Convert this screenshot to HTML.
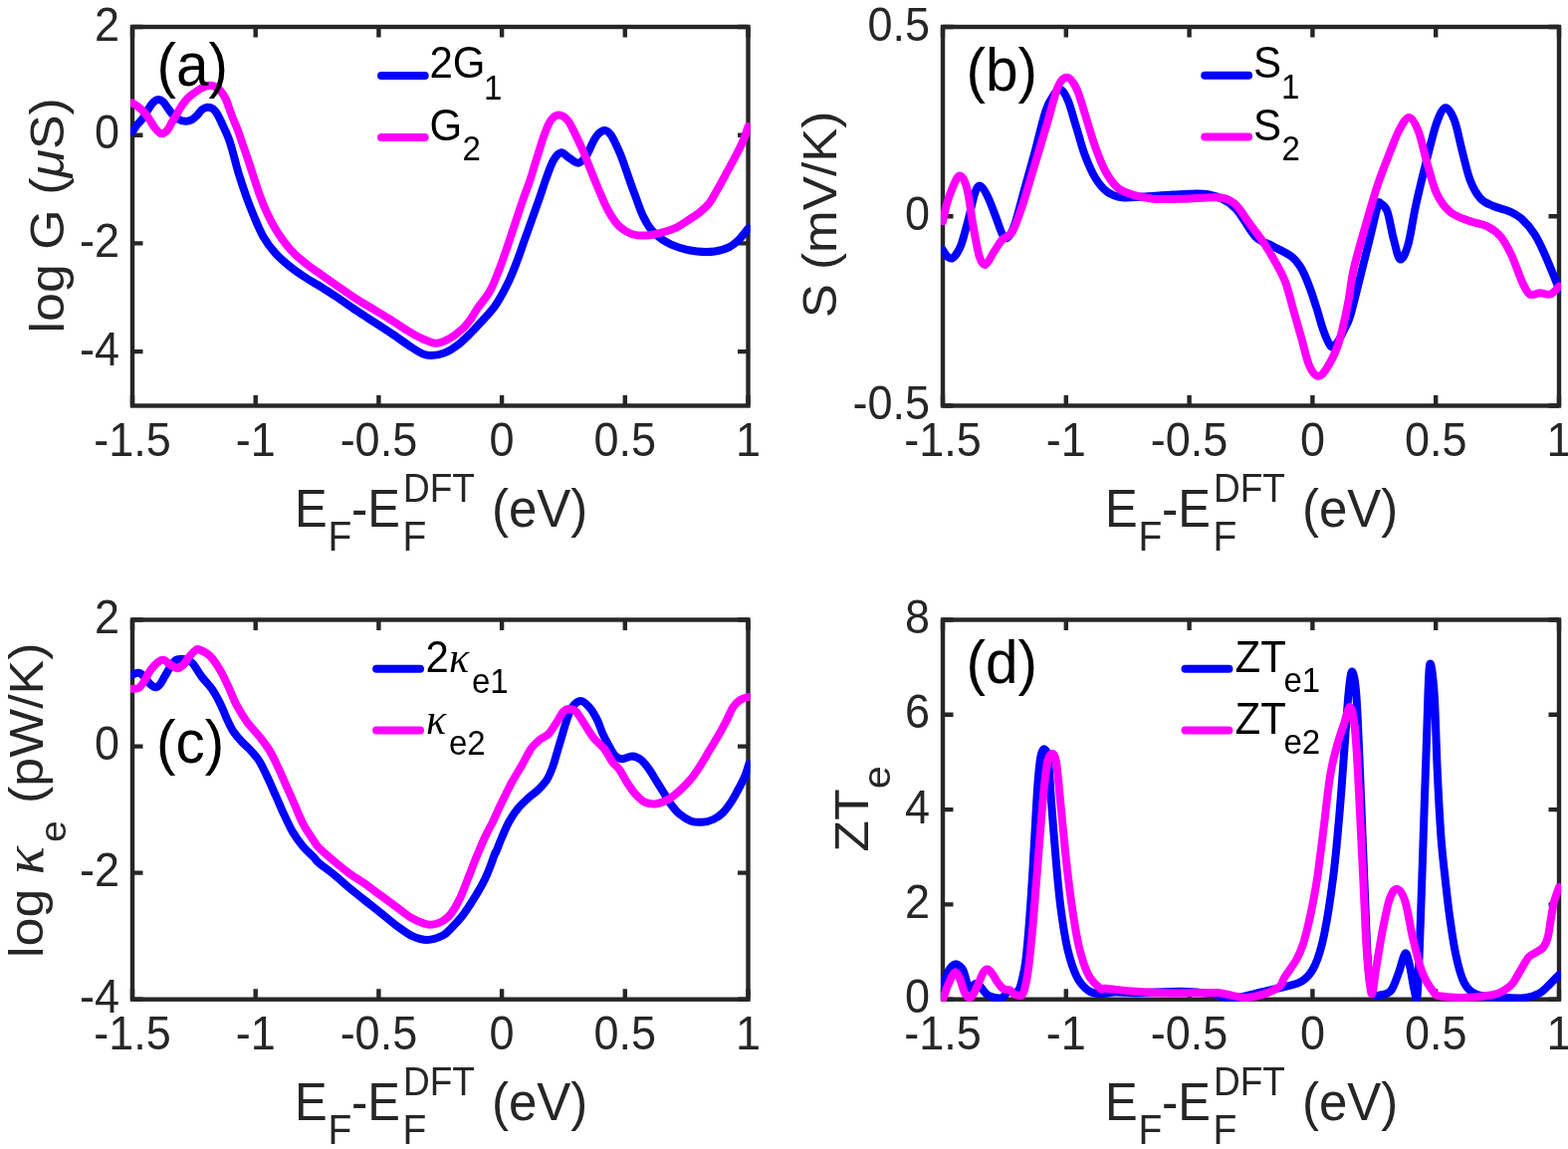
<!DOCTYPE html>
<html><head><meta charset="utf-8"><title>Figure</title>
<style>html,body{margin:0;padding:0;background:#fff;}svg{display:block;}text{font-family:"Liberation Sans", Arial, Helvetica, sans-serif;}</style></head><body>
<svg width="1575" height="1154" viewBox="0 0 1575 1154">
<rect x="0" y="0" width="1575" height="1154" fill="#fff"/>
<defs>
<clipPath id="clipa"><rect x="131" y="25" width="622.5" height="384.5"/></clipPath>
<clipPath id="clipb"><rect x="945" y="25" width="623" height="384.5"/></clipPath>
<clipPath id="clipc"><rect x="131" y="620.5" width="622.5" height="385.2"/></clipPath>
<clipPath id="clipd"><rect x="945" y="620.5" width="623" height="385.2"/></clipPath>
</defs>
<rect x="133" y="27" width="618.5" height="380.5" fill="none" stroke="#262626" stroke-width="4.4"/>
<path d="M133.0,407.5 V397 M133.0,27 V37.5 M256.7,407.5 V397 M256.7,27 V37.5 M380.4,407.5 V397 M380.4,27 V37.5 M504.1,407.5 V397 M504.1,27 V37.5 M627.8,407.5 V397 M627.8,27 V37.5 M751.5,407.5 V397 M751.5,27 V37.5 M133,27.0 H143.5 M751.5,27.0 H741 M133,135.7 H143.5 M751.5,135.7 H741 M133,244.4 H143.5 M751.5,244.4 H741 M133,353.1 H143.5 M751.5,353.1 H741" stroke="#262626" stroke-width="4.4" fill="none"/>
<g clip-path="url(#clipa)" fill="none" stroke-width="8" stroke-linejoin="round" stroke-linecap="round">
<path d="M133.0,132.5 C133.8,131.2 136.3,127.2 138.1,124.9 C139.9,122.6 141.6,121.4 143.6,118.7 C145.6,116.0 148.0,111.2 149.8,108.5 C151.6,105.8 152.9,103.7 154.5,102.3 C156.1,100.9 157.6,100.0 159.2,100.0 C160.8,100.0 162.3,100.9 163.9,102.3 C165.5,103.7 166.9,106.4 168.5,108.5 C170.1,110.6 171.5,113.0 173.2,114.8 C174.9,116.6 176.5,118.2 178.7,119.4 C180.9,120.6 184.2,121.7 186.5,121.8 C188.8,121.9 190.8,121.2 192.7,120.2 C194.6,119.2 196.5,117.2 198.2,115.5 C199.9,113.8 201.2,111.4 202.9,110.1 C204.6,108.8 206.5,107.8 208.3,107.7 C210.1,107.6 212.1,108.1 213.8,109.3 C215.5,110.5 216.8,112.2 218.4,114.8 C220.0,117.4 221.5,121.0 223.4,125.0 C225.3,129.0 228.0,134.8 229.6,139.0 C231.2,143.2 231.5,144.3 233.1,150.0 C234.7,155.7 237.1,165.6 239.4,173.4 C241.8,181.2 244.6,189.5 247.2,196.8 C249.8,204.1 252.2,210.3 255.0,217.1 C257.9,223.9 260.7,231.2 264.3,237.4 C267.9,243.6 272.1,249.3 276.8,254.5 C281.5,259.7 287.2,264.4 292.4,268.6 C297.6,272.8 302.8,276.1 308.0,279.5 C313.2,282.9 318.3,285.5 323.6,288.8 C328.9,292.1 334.3,295.7 340.0,299.5 C345.7,303.3 351.9,307.8 357.8,311.8 C363.7,315.8 369.7,319.5 375.6,323.3 C381.5,327.1 387.4,330.9 393.3,334.9 C399.2,338.9 405.9,343.9 411.1,347.3 C416.3,350.7 420.7,353.7 424.4,355.3 C428.1,356.9 429.6,357.2 433.3,357.1 C437.0,357.0 442.2,356.2 446.7,354.4 C451.1,352.6 455.6,349.8 460.0,346.4 C464.4,343.0 470.0,337.2 473.3,334.0 C476.6,330.8 476.1,331.2 480.0,326.9 C483.9,322.5 491.9,314.7 496.8,307.9 C501.7,301.1 505.7,293.4 509.3,286.1 C512.9,278.8 515.8,271.5 518.6,264.2 C521.5,256.9 523.8,249.7 526.4,242.4 C529.0,235.1 531.6,227.9 534.2,220.6 C536.8,213.3 539.6,205.5 542.0,198.7 C544.4,191.9 546.0,186.3 548.3,180.0 C550.6,173.7 553.3,165.5 555.9,161.1 C558.5,156.7 561.1,153.7 563.7,153.3 C566.3,152.9 568.7,156.8 571.5,158.5 C574.3,160.2 577.8,163.9 580.6,163.7 C583.4,163.5 585.8,160.9 588.4,157.2 C591.0,153.5 594.1,145.4 596.2,141.6 C598.3,137.8 599.2,136.3 601.0,134.5 C602.8,132.7 605.1,131.2 606.9,131.0 C608.7,130.8 610.5,132.0 612.0,133.5 C613.5,135.0 614.3,136.1 616.2,139.8 C618.1,143.6 621.2,149.9 623.6,156.0 C626.0,162.1 628.5,169.7 630.9,176.6 C633.3,183.5 635.8,190.6 638.3,197.2 C640.8,203.8 643.0,210.8 645.7,216.4 C648.4,222.1 651.1,226.9 654.5,231.1 C657.9,235.3 661.6,238.4 666.3,241.4 C671.0,244.4 676.9,247.0 682.5,248.8 C688.1,250.7 694.3,251.9 700.2,252.5 C706.1,253.1 712.5,253.2 717.9,252.5 C723.3,251.8 728.4,250.2 732.6,248.1 C736.8,246.0 739.8,243.1 742.9,240.0 C746.0,236.9 750.1,231.3 751.5,229.6" stroke="#0000ff"/>
<path d="M133.0,103.5 C133.7,104.0 135.6,104.9 137.4,106.2 C139.2,107.5 141.5,109.4 143.6,111.6 C145.7,113.8 147.9,116.7 149.8,119.4 C151.8,122.1 153.4,125.6 155.3,128.0 C157.2,130.4 159.4,133.5 161.5,134.0 C163.6,134.5 166.0,132.9 167.8,131.1 C169.6,129.3 170.9,125.9 172.4,123.3 C173.9,120.7 175.4,118.3 177.1,115.5 C178.8,112.7 180.6,109.0 182.6,106.2 C184.6,103.4 186.6,100.6 188.8,98.4 C191.0,96.2 193.5,94.6 195.8,92.9 C198.2,91.2 200.6,89.5 202.9,88.3 C205.2,87.1 207.8,86.2 209.9,85.9 C212.0,85.6 213.4,85.8 215.3,86.7 C217.2,87.6 219.7,89.2 221.6,91.4 C223.5,93.6 225.2,96.0 227.0,100.0 C228.8,104.0 230.7,110.4 232.7,115.6 C234.7,120.8 237.1,126.0 239.0,131.2 C240.9,136.4 243.3,143.7 244.4,146.8 C245.5,149.9 244.1,145.6 245.6,150.0 C247.1,154.4 250.8,165.6 253.4,173.4 C256.0,181.2 258.6,189.8 261.2,196.8 C263.8,203.8 266.1,209.5 269.0,215.5 C271.9,221.5 274.5,226.7 278.4,232.7 C282.3,238.7 287.5,246.0 292.4,251.4 C297.3,256.9 302.8,261.2 308.0,265.4 C313.2,269.6 318.3,272.6 323.6,276.4 C328.9,280.2 334.3,284.0 340.0,288.0 C345.7,292.0 351.9,296.4 357.8,300.2 C363.7,304.0 369.7,307.3 375.6,310.9 C381.5,314.5 387.4,317.9 393.3,321.6 C399.2,325.3 405.9,330.0 411.1,333.1 C416.3,336.2 419.9,338.3 424.4,340.2 C428.8,342.1 433.4,344.7 437.8,344.7 C442.2,344.7 446.7,342.6 451.1,340.2 C455.5,337.8 460.7,333.8 464.4,330.4 C468.1,327.0 470.7,323.4 473.3,319.8 C475.9,316.2 476.9,313.7 480.0,309.1 C483.1,304.5 488.5,298.7 492.1,292.3 C495.7,285.9 498.6,277.8 501.5,270.5 C504.4,263.2 506.7,256.1 509.3,248.6 C511.9,241.0 514.5,233.0 517.1,225.2 C519.7,217.4 522.3,209.3 524.9,201.8 C527.5,194.3 530.6,186.3 532.7,180.0 C534.8,173.7 535.4,171.2 537.7,163.7 C540.1,156.2 544.2,142.2 546.8,135.1 C549.4,127.9 550.9,124.0 553.3,120.8 C555.7,117.5 558.3,115.6 561.1,115.6 C563.9,115.6 567.4,117.5 570.2,120.8 C573.0,124.0 575.4,129.9 578.0,135.1 C580.6,140.3 583.2,145.9 585.8,152.0 C588.4,158.1 590.8,164.6 593.6,171.5 C596.4,178.4 599.7,186.7 602.7,193.6 C605.7,200.5 608.5,207.5 611.8,213.1 C615.0,218.7 618.3,223.7 622.2,227.4 C626.1,231.1 630.7,233.7 635.2,235.2 C639.7,236.7 644.6,236.7 649.4,236.5 C654.1,236.3 658.7,235.2 663.7,233.9 C668.7,232.6 674.8,230.8 679.3,228.7 C683.8,226.6 687.3,223.7 691.0,221.3 C694.7,218.9 698.2,217.0 701.7,214.2 C705.2,211.4 708.8,208.6 712.0,204.6 C715.2,200.6 717.8,195.1 720.8,189.9 C723.8,184.8 726.8,179.1 729.7,173.7 C732.7,168.3 735.8,162.7 738.5,157.5 C741.2,152.3 743.7,147.8 745.9,142.7 C748.1,137.6 750.6,129.6 751.5,127.0" stroke="#ff00ff"/>
</g>
<text transform="translate(133.0,457.5) scale(1,1.07)" font-size="45" text-anchor="middle" fill="#262626">-1.5</text>
<text transform="translate(256.7,457.5) scale(1,1.07)" font-size="45" text-anchor="middle" fill="#262626">-1</text>
<text transform="translate(380.4,457.5) scale(1,1.07)" font-size="45" text-anchor="middle" fill="#262626">-0.5</text>
<text transform="translate(504.1,457.5) scale(1,1.07)" font-size="45" text-anchor="middle" fill="#262626">0</text>
<text transform="translate(627.8,457.5) scale(1,1.07)" font-size="45" text-anchor="middle" fill="#262626">0.5</text>
<text transform="translate(751.5,457.5) scale(1,1.07)" font-size="45" text-anchor="middle" fill="#262626">1</text>
<text transform="translate(120.0,40.5) scale(1,1.07)" font-size="45" text-anchor="end" fill="#262626">2</text>
<text transform="translate(120.0,149.2) scale(1,1.07)" font-size="45" text-anchor="end" fill="#262626">0</text>
<text transform="translate(120.0,257.9) scale(1,1.07)" font-size="45" text-anchor="end" fill="#262626">-2</text>
<text transform="translate(120.0,366.6) scale(1,1.07)" font-size="45" text-anchor="end" fill="#262626">-4</text>
<rect x="947" y="27" width="619" height="380.5" fill="none" stroke="#262626" stroke-width="4.4"/>
<path d="M947.0,407.5 V397 M947.0,27 V37.5 M1070.8,407.5 V397 M1070.8,27 V37.5 M1194.6,407.5 V397 M1194.6,27 V37.5 M1318.4,407.5 V397 M1318.4,27 V37.5 M1442.2,407.5 V397 M1442.2,27 V37.5 M1566.0,407.5 V397 M1566.0,27 V37.5 M947,27.0 H957.5 M1566,27.0 H1555.5 M947,217.2 H957.5 M1566,217.2 H1555.5 M947,407.5 H957.5 M1566,407.5 H1555.5" stroke="#262626" stroke-width="4.4" fill="none"/>
<g clip-path="url(#clipb)" fill="none" stroke-width="8" stroke-linejoin="round" stroke-linecap="round">
<path d="M947.0,251.0 C947.7,252.0 949.6,255.6 951.0,257.0 C952.4,258.4 954.1,259.8 955.6,259.6 C957.1,259.4 958.4,258.1 960.0,256.0 C961.6,253.9 963.5,250.8 965.0,247.1 C966.5,243.4 967.6,238.8 969.0,234.0 C970.4,229.2 971.5,224.8 973.3,218.0 C975.0,211.2 977.6,198.3 979.5,193.1 C981.4,187.9 982.6,186.1 984.7,186.8 C986.8,187.5 989.4,192.0 992.0,197.2 C994.6,202.4 997.9,211.8 1000.3,218.0 C1002.7,224.2 1004.6,231.1 1006.5,234.6 C1008.4,238.1 1009.6,240.2 1011.7,238.8 C1013.8,237.4 1016.0,234.6 1019.0,226.3 C1022.0,218.0 1025.9,201.4 1029.4,188.9 C1032.9,176.4 1036.3,164.3 1039.8,151.5 C1043.3,138.7 1047.1,121.4 1050.2,112.0 C1053.3,102.6 1055.9,99.0 1058.5,95.3 C1061.1,91.6 1063.4,89.0 1065.8,90.1 C1068.2,91.1 1070.4,95.2 1073.0,101.6 C1075.6,108.0 1078.6,119.6 1081.4,128.6 C1084.2,137.6 1086.6,147.3 1089.7,155.6 C1092.8,163.9 1096.3,172.2 1100.1,178.5 C1103.9,184.8 1108.1,189.8 1112.6,193.1 C1117.1,196.4 1121.2,197.6 1127.1,198.3 C1133.0,199.1 1139.2,198.1 1147.9,197.6 C1156.6,197.1 1169.0,196.0 1179.1,195.5 C1189.1,195.0 1200.2,194.1 1208.2,194.7 C1216.2,195.3 1221.4,196.8 1226.9,199.3 C1232.5,201.8 1236.7,204.5 1241.5,209.7 C1246.3,214.9 1252.0,225.4 1255.6,230.4 C1259.2,235.4 1259.3,236.8 1263.3,239.7 C1267.2,242.6 1273.6,244.7 1279.3,247.7 C1285.0,250.7 1292.5,254.0 1297.2,257.6 C1301.9,261.2 1304.2,264.6 1307.2,269.6 C1310.2,274.6 1312.4,280.5 1315.1,287.5 C1317.8,294.5 1320.8,304.1 1323.1,311.4 C1325.4,318.7 1327.1,325.6 1329.1,331.3 C1331.1,337.0 1333.4,342.5 1335.1,345.3 C1336.8,348.1 1337.4,349.0 1339.1,348.3 C1340.8,347.6 1343.2,344.1 1345.0,341.3 C1346.8,338.5 1348.2,335.2 1350.0,331.3 C1351.8,327.4 1353.3,326.6 1356.0,318.0 C1358.7,309.4 1362.6,292.5 1365.9,279.4 C1369.2,266.3 1372.9,251.6 1375.9,239.5 C1378.9,227.4 1382.0,212.8 1383.8,207.0 C1385.6,201.2 1385.3,203.5 1386.9,204.4 C1388.5,205.3 1391.2,206.1 1393.4,212.2 C1395.6,218.3 1397.8,232.8 1400.0,240.8 C1402.2,248.8 1404.0,259.5 1406.4,260.4 C1408.8,261.3 1411.7,254.9 1414.3,246.0 C1416.9,237.1 1419.0,220.9 1422.0,207.0 C1425.0,193.1 1429.0,176.7 1432.5,162.8 C1436.0,148.9 1439.7,132.9 1442.9,123.8 C1446.2,114.7 1449.0,108.6 1452.0,108.2 C1455.0,107.8 1458.2,113.8 1461.0,121.2 C1463.8,128.6 1466.3,142.4 1468.9,152.4 C1471.5,162.4 1473.7,173.2 1476.7,181.0 C1479.7,188.8 1483.1,194.9 1487.0,199.2 C1490.9,203.5 1495.2,204.8 1500.0,207.0 C1504.8,209.2 1510.9,210.0 1515.7,212.2 C1520.5,214.4 1524.4,216.1 1528.7,220.0 C1533.0,223.9 1537.8,229.5 1541.7,235.6 C1545.6,241.7 1548.0,247.3 1552.1,256.4 C1556.1,265.5 1563.7,284.4 1566.0,290.0" stroke="#0000ff"/>
<path d="M947.0,222.2 C947.7,219.3 949.4,210.6 951.0,205.0 C952.6,199.4 954.5,193.7 956.6,188.9 C958.8,184.1 961.5,176.4 963.9,176.4 C966.3,176.4 969.0,180.6 971.2,188.9 C973.5,197.2 975.3,214.9 977.4,226.3 C979.5,237.7 981.6,250.9 983.7,257.5 C985.8,264.1 987.5,266.5 989.9,265.8 C992.3,265.1 995.4,257.4 998.2,253.3 C1001.0,249.2 1003.4,244.4 1006.5,240.9 C1009.6,237.4 1013.4,238.5 1016.9,232.6 C1020.4,226.7 1023.5,216.9 1027.3,205.5 C1031.1,194.1 1035.6,177.8 1039.8,164.0 C1044.0,150.2 1048.5,135.2 1052.3,122.4 C1056.1,109.6 1059.4,94.5 1062.7,87.0 C1066.0,79.5 1068.9,77.4 1072.0,77.7 C1075.1,78.0 1078.5,83.0 1081.4,89.1 C1084.4,95.2 1086.6,104.4 1089.7,114.1 C1092.8,123.8 1096.6,137.6 1100.1,147.3 C1103.6,157.0 1106.7,165.4 1110.5,172.3 C1114.3,179.2 1118.2,184.9 1123.0,188.9 C1127.8,192.9 1133.7,194.4 1139.6,196.2 C1145.5,198.0 1150.0,199.1 1158.3,199.7 C1166.6,200.3 1178.8,199.9 1189.5,199.7 C1200.2,199.5 1214.3,197.5 1222.7,198.3 C1231.1,199.1 1234.5,199.9 1240.0,204.4 C1245.5,208.9 1250.7,218.6 1255.6,225.2 C1260.5,231.8 1265.0,237.3 1269.3,243.7 C1273.6,250.1 1277.6,257.0 1281.3,263.6 C1285.0,270.2 1288.2,275.5 1291.2,283.5 C1294.2,291.5 1296.5,302.1 1299.2,311.4 C1301.9,320.7 1304.6,330.0 1307.2,339.3 C1309.8,348.6 1312.3,360.8 1315.1,367.2 C1317.9,373.6 1321.1,377.5 1324.1,377.8 C1327.1,378.1 1329.9,373.9 1333.1,369.2 C1336.2,364.4 1340.3,356.2 1343.0,349.3 C1345.7,342.4 1347.1,335.9 1349.0,328.0 C1350.9,320.1 1352.7,311.8 1354.5,302.0 C1356.3,292.2 1357.0,282.1 1359.9,269.4 C1362.8,256.6 1367.9,239.4 1371.9,225.5 C1375.9,211.6 1379.8,197.6 1383.8,185.7 C1387.8,173.8 1392.1,163.1 1395.8,153.8 C1399.5,144.5 1402.5,135.9 1405.8,129.9 C1409.1,123.9 1412.5,117.6 1415.7,117.9 C1418.9,118.2 1421.9,124.5 1424.7,131.6 C1427.5,138.6 1429.5,149.8 1432.5,160.2 C1435.5,170.6 1439.0,185.3 1442.9,194.0 C1446.8,202.7 1450.7,207.6 1455.9,212.2 C1461.1,216.8 1467.6,218.7 1474.1,221.3 C1480.6,223.9 1489.3,225.0 1494.9,227.8 C1500.5,230.6 1504.0,233.4 1507.9,238.2 C1511.8,243.0 1514.8,249.0 1518.3,256.4 C1521.8,263.8 1525.7,276.0 1528.7,282.5 C1531.7,289.0 1533.5,293.6 1536.5,295.5 C1539.5,297.4 1543.4,294.2 1546.9,294.2 C1550.4,294.2 1554.1,296.6 1557.3,295.5 C1560.5,294.4 1564.5,289.0 1566.0,287.7" stroke="#ff00ff"/>
</g>
<text transform="translate(947.0,457.5) scale(1,1.07)" font-size="45" text-anchor="middle" fill="#262626">-1.5</text>
<text transform="translate(1070.8,457.5) scale(1,1.07)" font-size="45" text-anchor="middle" fill="#262626">-1</text>
<text transform="translate(1194.6,457.5) scale(1,1.07)" font-size="45" text-anchor="middle" fill="#262626">-0.5</text>
<text transform="translate(1318.4,457.5) scale(1,1.07)" font-size="45" text-anchor="middle" fill="#262626">0</text>
<text transform="translate(1442.2,457.5) scale(1,1.07)" font-size="45" text-anchor="middle" fill="#262626">0.5</text>
<text transform="translate(1566.0,457.5) scale(1,1.07)" font-size="45" text-anchor="middle" fill="#262626">1</text>
<text transform="translate(934.0,40.5) scale(1,1.07)" font-size="45" text-anchor="end" fill="#262626">0.5</text>
<text transform="translate(934.0,230.8) scale(1,1.07)" font-size="45" text-anchor="end" fill="#262626">0</text>
<text transform="translate(934.0,421.0) scale(1,1.07)" font-size="45" text-anchor="end" fill="#262626">-0.5</text>
<rect x="133" y="622.5" width="618.5" height="381.2" fill="none" stroke="#262626" stroke-width="4.4"/>
<path d="M133.0,1003.7 V993.2 M133.0,622.5 V633 M256.7,1003.7 V993.2 M256.7,622.5 V633 M380.4,1003.7 V993.2 M380.4,622.5 V633 M504.1,1003.7 V993.2 M504.1,622.5 V633 M627.8,1003.7 V993.2 M627.8,622.5 V633 M751.5,1003.7 V993.2 M751.5,622.5 V633 M133,622.5 H143.5 M751.5,622.5 H741 M133,749.6 H143.5 M751.5,749.6 H741 M133,876.6 H143.5 M751.5,876.6 H741 M133,1003.7 H143.5 M751.5,1003.7 H741" stroke="#262626" stroke-width="4.4" fill="none"/>
<g clip-path="url(#clipc)" fill="none" stroke-width="8" stroke-linejoin="round" stroke-linecap="round">
<path d="M133.0,677.5 C134.1,677.2 137.4,675.4 139.4,675.8 C141.4,676.1 142.9,677.7 144.8,679.6 C146.7,681.5 149.0,685.4 150.9,687.2 C152.8,689.0 154.5,690.3 156.2,690.3 C157.8,690.3 159.3,689.0 160.8,687.2 C162.3,685.4 163.7,682.4 165.3,679.6 C167.0,676.8 168.8,673.3 170.7,670.5 C172.6,667.7 174.8,664.3 176.8,662.9 C178.8,661.5 180.9,662.1 182.9,662.1 C184.9,662.1 187.1,662.1 189.0,662.9 C190.9,663.7 191.9,664.2 194.2,667.0 C196.4,669.8 199.4,675.3 202.5,679.5 C205.6,683.7 209.8,687.5 212.9,692.0 C216.0,696.5 218.8,701.8 221.2,706.6 C223.6,711.5 225.4,716.6 227.5,721.1 C229.6,725.6 231.3,729.8 233.7,733.6 C236.1,737.4 238.9,740.5 242.0,744.0 C245.1,747.5 249.3,750.9 252.4,754.4 C255.5,757.9 257.9,760.3 260.7,764.8 C263.5,769.3 266.3,775.6 269.1,781.5 C271.9,787.4 274.6,794.0 277.4,800.2 C280.2,806.4 282.9,813.0 285.7,818.9 C288.5,824.8 290.9,830.4 294.0,835.6 C297.1,840.8 300.9,846.0 304.4,850.2 C307.9,854.4 312.2,857.9 314.8,860.6 C317.4,863.3 316.5,863.5 320.0,866.5 C323.5,869.5 330.4,874.2 335.6,878.5 C340.8,882.8 346.0,887.7 351.2,892.0 C356.4,896.3 361.6,900.4 366.8,904.5 C372.0,908.6 377.2,912.8 382.4,916.9 C387.6,921.0 392.8,925.6 398.0,929.4 C403.2,933.2 408.4,937.4 413.6,939.8 C418.8,942.2 423.9,944.0 429.1,944.0 C434.3,944.0 440.6,941.6 444.8,939.5 C449.0,937.4 451.1,934.2 454.3,931.1 C457.5,928.0 460.9,924.4 463.9,920.6 C466.9,916.8 469.7,912.3 472.4,908.2 C475.1,904.1 477.7,899.9 480.1,895.8 C482.5,891.7 484.7,887.7 486.8,883.4 C488.9,879.1 490.8,874.5 492.5,870.1 C494.2,865.7 496.4,859.0 497.3,856.7 C498.2,854.4 496.8,858.9 497.9,856.4 C499.0,853.9 501.6,846.9 503.8,841.7 C506.0,836.6 508.5,830.4 511.2,825.5 C513.9,820.6 516.8,816.1 520.0,812.2 C523.2,808.3 526.8,805.1 530.3,801.9 C533.8,798.7 537.5,796.3 540.7,793.1 C543.9,789.9 547.0,786.7 549.5,782.8 C552.0,778.9 553.7,774.2 555.4,769.5 C557.1,764.8 558.3,759.7 559.8,754.8 C561.3,749.9 562.7,745.0 564.2,740.1 C565.7,735.2 566.9,730.2 568.6,725.3 C570.3,720.4 572.0,714.1 574.5,710.6 C577.0,707.1 580.4,704.0 583.4,704.0 C586.4,704.0 589.5,707.5 592.2,710.6 C594.9,713.7 597.4,718.0 599.6,722.4 C601.8,726.8 603.6,733.0 605.5,737.1 C607.4,741.2 608.6,743.6 610.7,747.2 C612.8,750.9 615.5,756.5 617.9,759.0 C620.3,761.5 622.1,762.1 625.0,762.2 C627.9,762.3 631.9,759.3 635.0,759.4 C638.1,759.5 640.7,760.6 643.6,762.9 C646.5,765.1 649.6,769.3 652.2,772.9 C654.8,776.5 656.9,780.6 659.3,784.4 C661.7,788.2 664.1,792.0 666.5,795.8 C668.9,799.6 671.0,803.7 673.6,807.3 C676.2,810.9 678.9,814.4 682.2,817.3 C685.5,820.1 689.8,823.0 693.6,824.4 C697.4,825.8 701.3,826.0 705.1,825.8 C708.9,825.6 712.9,824.7 716.5,823.0 C720.1,821.3 723.4,818.9 726.5,815.8 C729.6,812.7 732.5,808.4 735.1,804.4 C737.7,800.4 740.1,795.5 742.3,791.5 C744.4,787.5 746.3,784.1 748.0,780.1 C749.7,776.1 751.6,769.4 752.3,767.2" stroke="#0000ff"/>
<path d="M133.0,691.8 C134.1,691.7 137.4,692.3 139.4,691.0 C141.4,689.7 142.9,687.1 144.8,684.2 C146.7,681.3 148.6,676.7 150.9,673.5 C153.2,670.3 156.2,666.9 158.5,665.1 C160.8,663.3 162.6,662.5 164.6,662.9 C166.6,663.3 168.4,666.0 170.7,667.4 C173.0,668.8 176.0,671.2 178.3,671.2 C180.6,671.2 182.4,669.4 184.4,667.4 C186.4,665.4 188.5,661.4 190.5,659.0 C192.5,656.6 194.9,654.1 196.6,653.0 C198.2,651.9 198.0,651.5 200.4,652.5 C202.8,653.5 207.3,655.2 210.8,658.7 C214.3,662.2 218.1,668.1 221.2,673.3 C224.3,678.5 226.7,684.0 229.5,689.9 C232.3,695.8 234.8,702.8 237.9,708.7 C241.0,714.6 244.5,720.1 248.3,725.3 C252.1,730.5 256.9,735.0 260.7,739.9 C264.5,744.8 268.0,749.2 271.1,754.4 C274.2,759.6 276.7,765.2 279.5,771.1 C282.3,777.0 285.0,783.6 287.8,789.8 C290.6,796.0 293.3,802.2 296.1,808.5 C298.9,814.8 301.3,821.4 304.4,827.3 C307.5,833.2 312.2,839.9 314.8,843.9 C317.4,847.9 316.5,847.5 320.0,851.0 C323.5,854.5 330.4,860.6 335.6,865.0 C340.8,869.4 346.0,873.6 351.2,877.4 C356.4,881.2 361.6,884.1 366.8,887.8 C372.0,891.4 377.2,895.5 382.4,899.3 C387.6,903.1 392.8,906.9 398.0,910.7 C403.2,914.5 408.4,919.2 413.6,922.1 C418.8,925.0 424.7,927.5 429.1,928.4 C433.5,929.3 436.6,928.4 440.0,927.3 C443.4,926.2 446.8,924.0 449.5,921.6 C452.2,919.2 454.1,916.2 456.2,913.0 C458.3,909.8 460.1,906.1 461.9,902.5 C463.6,898.9 465.1,895.1 466.7,891.1 C468.3,887.1 469.9,882.8 471.5,878.7 C473.1,874.6 474.7,870.3 476.3,866.3 C477.9,862.3 479.2,858.9 481.0,854.8 C482.8,850.7 484.9,845.6 486.8,841.5 C488.7,837.4 491.1,832.7 492.5,830.0 C493.9,827.3 493.1,829.5 495.0,825.5 C496.9,821.5 500.6,812.9 503.8,806.3 C507.0,799.7 510.7,792.1 514.1,785.7 C517.6,779.3 521.3,773.7 524.5,768.1 C527.7,762.5 530.4,756.1 533.3,751.9 C536.2,747.7 539.1,745.5 542.1,743.0 C545.1,740.5 548.3,739.8 551.0,737.1 C553.7,734.4 555.8,730.5 558.3,726.8 C560.8,723.1 563.5,717.5 565.7,715.0 C567.9,712.5 569.4,712.1 571.6,712.1 C573.8,712.1 576.2,712.3 578.9,715.0 C581.6,717.7 584.8,723.9 587.8,728.3 C590.8,732.7 593.4,737.6 596.6,741.5 C599.8,745.4 603.8,748.0 606.9,751.9 C610.0,755.8 612.5,761.6 615.0,765.1 C617.5,768.6 619.6,769.2 622.2,772.9 C624.8,776.6 627.9,782.9 630.7,787.2 C633.6,791.5 636.4,795.6 639.3,798.7 C642.2,801.8 644.6,804.4 647.9,805.8 C651.2,807.2 655.5,807.8 659.3,807.3 C663.1,806.8 667.0,805.1 670.8,803.0 C674.6,800.9 678.4,797.8 682.2,794.4 C686.0,791.0 690.0,787.2 693.6,782.9 C697.2,778.6 700.6,773.4 703.7,768.6 C706.8,763.8 709.4,759.0 712.2,754.3 C715.1,749.5 717.9,745.1 720.8,740.1 C723.7,735.1 726.8,729.3 729.4,724.3 C732.0,719.3 734.1,713.6 736.5,710.0 C738.9,706.4 741.1,704.6 743.7,702.9 C746.3,701.2 750.9,700.5 752.3,700.0" stroke="#ff00ff"/>
</g>
<text transform="translate(133.0,1053.7) scale(1,1.07)" font-size="45" text-anchor="middle" fill="#262626">-1.5</text>
<text transform="translate(256.7,1053.7) scale(1,1.07)" font-size="45" text-anchor="middle" fill="#262626">-1</text>
<text transform="translate(380.4,1053.7) scale(1,1.07)" font-size="45" text-anchor="middle" fill="#262626">-0.5</text>
<text transform="translate(504.1,1053.7) scale(1,1.07)" font-size="45" text-anchor="middle" fill="#262626">0</text>
<text transform="translate(627.8,1053.7) scale(1,1.07)" font-size="45" text-anchor="middle" fill="#262626">0.5</text>
<text transform="translate(751.5,1053.7) scale(1,1.07)" font-size="45" text-anchor="middle" fill="#262626">1</text>
<text transform="translate(120.0,636.0) scale(1,1.07)" font-size="45" text-anchor="end" fill="#262626">2</text>
<text transform="translate(120.0,763.1) scale(1,1.07)" font-size="45" text-anchor="end" fill="#262626">0</text>
<text transform="translate(120.0,890.1) scale(1,1.07)" font-size="45" text-anchor="end" fill="#262626">-2</text>
<text transform="translate(120.0,1017.2) scale(1,1.07)" font-size="45" text-anchor="end" fill="#262626">-4</text>
<rect x="947" y="622.5" width="619" height="381.2" fill="none" stroke="#262626" stroke-width="4.4"/>
<path d="M947.0,1003.7 V993.2 M947.0,622.5 V633 M1070.8,1003.7 V993.2 M1070.8,622.5 V633 M1194.6,1003.7 V993.2 M1194.6,622.5 V633 M1318.4,1003.7 V993.2 M1318.4,622.5 V633 M1442.2,1003.7 V993.2 M1442.2,622.5 V633 M1566.0,1003.7 V993.2 M1566.0,622.5 V633 M947,622.5 H957.5 M1566,622.5 H1555.5 M947,717.8 H957.5 M1566,717.8 H1555.5 M947,813.1 H957.5 M1566,813.1 H1555.5 M947,908.4 H957.5 M1566,908.4 H1555.5 M947,1003.7 H957.5 M1566,1003.7 H1555.5" stroke="#262626" stroke-width="4.4" fill="none"/>
<g clip-path="url(#clipd)" fill="none" stroke-width="8" stroke-linejoin="round" stroke-linecap="round">
<path d="M947.0,989.4 C948.0,987.1 951.1,978.6 952.7,975.4 C954.3,972.2 955.1,971.2 956.5,970.0 C957.9,968.8 959.2,967.7 961.0,968.4 C962.8,969.1 965.5,970.8 967.3,974.1 C969.1,977.4 970.3,984.9 971.7,988.1 C973.1,991.3 974.3,993.2 975.6,993.2 C976.9,993.2 977.9,988.5 979.4,988.1 C980.9,987.7 982.5,988.9 984.4,990.6 C986.3,992.3 988.4,996.4 990.8,998.3 C993.2,1000.2 996.4,1001.4 999.0,1002.0 C1001.6,1002.6 1004.4,1003.0 1006.7,1002.0 C1009.0,1001.0 1010.9,996.5 1013.0,995.7 C1015.1,994.9 1017.5,997.5 1019.4,997.0 C1021.3,996.5 1022.8,995.7 1024.2,992.5 C1025.6,989.3 1026.8,983.8 1028.0,978.0 C1029.2,972.2 1029.8,970.9 1031.1,958.0 C1032.4,945.1 1034.4,919.8 1035.7,900.7 C1037.0,881.6 1038.0,862.4 1039.1,843.3 C1040.2,824.2 1041.4,799.9 1042.5,785.9 C1043.6,771.9 1044.3,764.5 1045.5,759.0 C1046.7,753.5 1048.2,751.9 1049.4,752.6 C1050.6,753.3 1051.8,753.6 1052.9,763.0 C1054.1,772.4 1055.0,791.7 1056.3,808.9 C1057.6,826.1 1059.4,849.1 1060.9,866.3 C1062.4,883.5 1063.6,897.7 1065.5,912.2 C1067.4,926.7 1069.7,942.0 1072.4,953.5 C1075.1,965.0 1078.2,974.1 1081.6,981.0 C1085.0,987.9 1089.1,991.9 1093.0,994.8 C1096.9,997.7 1100.5,998.0 1105.0,998.3 C1109.5,998.6 1114.2,996.8 1120.2,996.6 C1126.2,996.4 1129.9,997.4 1141.0,997.3 C1152.1,997.2 1174.0,995.7 1186.7,995.8 C1199.4,995.9 1209.5,997.0 1217.1,998.1 C1224.7,999.2 1227.3,1002.2 1232.4,1002.7 C1237.5,1003.2 1242.5,1002.0 1247.6,1001.1 C1252.7,1000.2 1255.8,998.9 1262.9,997.3 C1270.0,995.6 1282.4,993.2 1290.0,991.2 C1297.6,989.2 1303.3,988.7 1308.4,985.1 C1313.5,981.5 1317.1,977.4 1320.7,969.7 C1324.3,962.0 1326.9,953.9 1330.0,939.0 C1333.1,924.1 1336.7,900.6 1339.2,880.6 C1341.8,860.6 1343.5,839.6 1345.3,819.1 C1347.1,798.6 1348.5,778.1 1350.0,757.6 C1351.5,737.1 1353.2,709.9 1354.6,696.1 C1356.0,682.3 1356.9,674.6 1358.2,674.6 C1359.5,674.6 1361.0,682.3 1362.2,696.1 C1363.4,709.9 1364.3,734.6 1365.3,757.6 C1366.3,780.6 1367.4,808.8 1368.4,834.4 C1369.4,860.0 1370.5,888.2 1371.5,911.3 C1372.5,934.4 1373.2,958.4 1374.5,972.8 C1375.8,987.1 1376.8,993.0 1379.1,997.4 C1381.4,1001.8 1385.3,999.5 1388.4,999.0 C1391.5,998.5 1394.8,998.2 1397.6,994.3 C1400.4,990.4 1403.0,981.9 1405.3,975.8 C1407.6,969.6 1409.6,958.4 1411.4,957.4 C1413.2,956.4 1414.5,963.6 1416.0,969.7 C1417.5,975.9 1419.3,989.4 1420.6,994.3 C1421.9,999.2 1422.7,1010.3 1423.7,999.0 C1424.7,987.7 1425.8,954.1 1426.8,926.7 C1427.8,899.3 1428.9,865.1 1429.9,834.4 C1430.9,803.6 1432.0,769.9 1433.0,742.2 C1434.0,714.5 1434.7,676.1 1436.0,668.4 C1437.3,660.7 1439.3,678.7 1440.6,696.1 C1441.9,713.5 1442.6,749.0 1443.7,773.0 C1444.8,797.0 1446.1,821.5 1447.4,840.0 C1448.8,858.5 1450.3,870.7 1451.8,884.2 C1453.3,897.7 1454.5,908.8 1456.2,921.1 C1457.9,933.4 1459.9,947.4 1462.1,957.9 C1464.3,968.4 1466.8,978.0 1469.5,984.4 C1472.2,990.8 1474.6,993.5 1478.3,996.2 C1482.0,998.9 1485.7,999.7 1491.6,1000.7 C1497.5,1001.7 1507.1,1001.9 1513.7,1002.1 C1520.3,1002.3 1526.0,1002.8 1531.4,1002.1 C1536.8,1001.4 1541.9,999.9 1546.1,997.7 C1550.3,995.5 1553.1,992.0 1556.4,988.9 C1559.7,985.8 1564.4,980.6 1566.0,979.0" stroke="#0000ff"/>
<path d="M947.0,1004.0 C948.0,1001.4 950.7,992.6 952.7,988.1 C954.7,983.6 957.1,977.6 959.0,976.7 C960.9,975.9 962.4,979.5 964.1,983.0 C965.8,986.5 967.4,994.4 969.2,997.6 C971.0,1000.8 972.9,1003.0 974.9,1002.0 C976.9,1001.0 979.2,995.5 981.3,991.3 C983.4,987.1 985.8,979.7 987.6,976.7 C989.4,973.7 990.5,973.2 992.1,973.5 C993.7,973.8 995.4,976.4 997.1,978.6 C998.8,980.8 1000.4,984.4 1002.2,986.8 C1004.0,989.2 1005.9,991.9 1007.9,993.2 C1009.9,994.5 1012.4,993.5 1014.3,994.4 C1016.2,995.3 1017.4,998.1 1019.4,998.9 C1021.4,999.7 1024.7,1000.9 1026.5,999.4 C1028.3,997.9 1028.8,995.0 1030.0,990.0 C1031.2,985.0 1032.1,980.6 1033.4,969.6 C1034.7,958.6 1036.5,940.9 1038.0,923.7 C1039.5,906.5 1041.0,885.4 1042.5,866.3 C1044.0,847.2 1045.6,825.4 1047.1,808.9 C1048.6,792.4 1050.2,776.1 1051.7,767.5 C1053.2,758.9 1054.8,757.6 1056.3,757.2 C1057.8,756.8 1059.4,756.7 1060.9,765.3 C1062.4,773.9 1063.8,792.1 1065.5,808.9 C1067.2,825.7 1069.3,849.1 1071.2,866.3 C1073.1,883.5 1074.9,898.1 1077.0,912.2 C1079.1,926.4 1081.2,940.1 1083.9,951.2 C1086.6,962.3 1089.6,971.8 1093.1,978.7 C1096.6,985.6 1102.1,990.1 1105.0,992.5 C1107.9,994.9 1104.5,992.2 1110.5,992.8 C1116.5,993.3 1130.8,995.0 1141.0,995.8 C1151.2,996.5 1161.2,997.0 1171.4,997.3 C1181.6,997.5 1193.0,997.3 1201.9,997.3 C1210.8,997.3 1218.5,996.8 1224.8,997.3 C1231.1,997.8 1235.4,999.6 1240.0,1000.4 C1244.6,1001.2 1247.1,1002.3 1252.2,1001.9 C1257.3,1001.5 1264.9,1000.0 1270.5,998.1 C1276.1,996.2 1282.5,993.2 1285.7,990.5 C1289.0,987.8 1287.2,986.5 1290.0,982.0 C1292.8,977.5 1299.1,969.3 1302.3,963.6 C1305.5,957.9 1307.0,954.1 1309.0,948.0 C1311.0,941.9 1312.8,934.2 1314.6,926.7 C1316.3,919.2 1318.0,911.2 1319.5,903.0 C1321.0,894.8 1322.0,890.0 1323.8,877.5 C1325.5,865.0 1328.0,844.7 1330.0,828.3 C1332.0,811.9 1334.0,791.9 1336.1,779.1 C1338.1,766.3 1340.0,760.1 1342.3,751.4 C1344.6,742.7 1347.7,733.8 1350.0,726.9 C1352.3,720.0 1354.3,709.5 1356.1,710.0 C1357.9,710.5 1359.4,719.4 1360.7,729.9 C1362.0,740.4 1362.8,755.6 1363.8,773.0 C1364.8,790.4 1365.9,813.9 1366.9,834.4 C1367.9,854.9 1368.9,875.4 1369.9,895.9 C1370.9,916.4 1371.7,940.4 1373.0,957.4 C1374.3,974.4 1376.1,995.4 1377.6,998.0 C1379.1,1000.6 1380.4,983.1 1382.2,972.8 C1384.0,962.4 1386.1,947.7 1388.4,935.9 C1390.7,924.1 1393.5,909.3 1396.1,902.1 C1398.6,894.9 1401.2,892.4 1403.7,892.9 C1406.2,893.4 1408.8,897.0 1411.4,905.2 C1414.0,913.4 1416.3,930.2 1419.1,942.0 C1421.9,953.8 1424.8,966.7 1428.3,975.8 C1431.8,984.9 1436.8,992.4 1440.0,996.5 C1443.2,1000.6 1442.5,999.6 1447.4,1000.5 C1452.3,1001.4 1460.9,1002.2 1469.5,1002.0 C1478.1,1001.8 1492.1,1000.4 1499.0,999.2 C1505.9,998.0 1507.3,996.8 1510.7,994.8 C1514.1,992.8 1516.6,991.1 1519.6,987.4 C1522.5,983.7 1525.7,977.0 1528.4,972.6 C1531.1,968.2 1533.3,963.6 1535.8,960.9 C1538.3,958.2 1540.8,958.0 1543.2,956.4 C1545.7,954.8 1548.5,953.7 1550.5,951.0 C1552.5,948.3 1553.8,945.0 1555.0,940.2 C1556.2,935.5 1556.9,928.1 1557.9,922.5 C1558.9,916.9 1559.6,911.5 1560.9,906.3 C1562.2,901.0 1565.2,893.5 1566.0,891.0" stroke="#ff00ff"/>
</g>
<text transform="translate(947.0,1053.7) scale(1,1.07)" font-size="45" text-anchor="middle" fill="#262626">-1.5</text>
<text transform="translate(1070.8,1053.7) scale(1,1.07)" font-size="45" text-anchor="middle" fill="#262626">-1</text>
<text transform="translate(1194.6,1053.7) scale(1,1.07)" font-size="45" text-anchor="middle" fill="#262626">-0.5</text>
<text transform="translate(1318.4,1053.7) scale(1,1.07)" font-size="45" text-anchor="middle" fill="#262626">0</text>
<text transform="translate(1442.2,1053.7) scale(1,1.07)" font-size="45" text-anchor="middle" fill="#262626">0.5</text>
<text transform="translate(1566.0,1053.7) scale(1,1.07)" font-size="45" text-anchor="middle" fill="#262626">1</text>
<text transform="translate(934.0,636.0) scale(1,1.07)" font-size="45" text-anchor="end" fill="#262626">8</text>
<text transform="translate(934.0,731.3) scale(1,1.07)" font-size="45" text-anchor="end" fill="#262626">6</text>
<text transform="translate(934.0,826.6) scale(1,1.07)" font-size="45" text-anchor="end" fill="#262626">4</text>
<text transform="translate(934.0,921.9) scale(1,1.07)" font-size="45" text-anchor="end" fill="#262626">2</text>
<text transform="translate(934.0,1017.2) scale(1,1.07)" font-size="45" text-anchor="end" fill="#262626">0</text>
<g transform="translate(0,0)" fill="#262626">
<text transform="translate(296.0,528.5) scale(1,1.1)" font-size="49">E</text>
<text transform="translate(329.5,553.0) scale(1,1.1)" font-size="39">F</text>
<text transform="translate(353.0,528.5) scale(1,1.1)" font-size="49">-E</text>
<text transform="translate(404.5,553.0) scale(1,1.1)" font-size="39">F</text>
<text transform="translate(405.0,503.5) scale(1,1.1)" font-size="37">DFT</text>
<text transform="translate(494.0,528.5) scale(1,1.05)" font-size="51">(eV)</text>
</g>
<g transform="translate(814,0)" fill="#262626">
<text transform="translate(296.0,528.5) scale(1,1.1)" font-size="49">E</text>
<text transform="translate(329.5,553.0) scale(1,1.1)" font-size="39">F</text>
<text transform="translate(353.0,528.5) scale(1,1.1)" font-size="49">-E</text>
<text transform="translate(404.5,553.0) scale(1,1.1)" font-size="39">F</text>
<text transform="translate(405.0,503.5) scale(1,1.1)" font-size="37">DFT</text>
<text transform="translate(494.0,528.5) scale(1,1.05)" font-size="51">(eV)</text>
</g>
<g transform="translate(0,596.2)" fill="#262626">
<text transform="translate(296.0,528.5) scale(1,1.1)" font-size="49">E</text>
<text transform="translate(329.5,553.0) scale(1,1.1)" font-size="39">F</text>
<text transform="translate(353.0,528.5) scale(1,1.1)" font-size="49">-E</text>
<text transform="translate(404.5,553.0) scale(1,1.1)" font-size="39">F</text>
<text transform="translate(405.0,503.5) scale(1,1.1)" font-size="37">DFT</text>
<text transform="translate(494.0,528.5) scale(1,1.05)" font-size="51">(eV)</text>
</g>
<g transform="translate(814,596.2)" fill="#262626">
<text transform="translate(296.0,528.5) scale(1,1.1)" font-size="49">E</text>
<text transform="translate(329.5,553.0) scale(1,1.1)" font-size="39">F</text>
<text transform="translate(353.0,528.5) scale(1,1.1)" font-size="49">-E</text>
<text transform="translate(404.5,553.0) scale(1,1.1)" font-size="39">F</text>
<text transform="translate(405.0,503.5) scale(1,1.1)" font-size="37">DFT</text>
<text transform="translate(494.0,528.5) scale(1,1.05)" font-size="51">(eV)</text>
</g>
<text transform="translate(64,216.3) rotate(-90) scale(1.06,1)" text-anchor="middle" font-size="49" fill="#262626">log G (<tspan font-style="italic">μ</tspan>S)</text>
<text transform="translate(840,215.5) rotate(-90) scale(1.045,1)" text-anchor="middle" font-size="49" fill="#262626">S (mV/K)</text>
<g transform="rotate(-90)" fill="#262626">
<text transform="translate(-962,43) scale(1.06,1)" font-size="49">log</text>
<text transform="translate(-878.5,43) scale(1.06,1)" font-size="56" style="font-family:Liberation Serif,serif;font-style:italic">κ</text>
<text transform="translate(-846,66) scale(1.06,1)" font-size="37">e</text>
<text transform="translate(-807,43) scale(1.06,1)" font-size="49">(pW/K)</text>
</g>
<text transform="translate(872.3,812.5) rotate(-90) scale(1.06,1)" text-anchor="middle" font-size="49" fill="#262626">ZT<tspan font-size="39" dy="21.5">e</tspan></text>
<line x1="383" y1="76" x2="426.7" y2="76" stroke="#0000ff" stroke-width="8" stroke-linecap="round"/>
<line x1="383" y1="138" x2="426.7" y2="138" stroke="#ff00ff" stroke-width="8" stroke-linecap="round"/>
<text transform="translate(431.5,78.0) scale(1,1.07)" font-size="42">2G</text><text transform="translate(486.0,99.5) scale(1,1.07)" font-size="33">1</text>
<text transform="translate(431.4,140.5) scale(1,1.07)" font-size="42">G</text><text transform="translate(464.5,161.0) scale(1,1.07)" font-size="33">2</text>
<line x1="1210.2" y1="75.8" x2="1254.1" y2="75.8" stroke="#0000ff" stroke-width="8" stroke-linecap="round"/>
<line x1="1210.2" y1="137.6" x2="1254.1" y2="137.6" stroke="#ff00ff" stroke-width="8" stroke-linecap="round"/>
<text transform="translate(1259.0,78.2) scale(1,1.07)" font-size="42">S</text><text transform="translate(1287.0,99.0) scale(1,1.07)" font-size="33">1</text>
<text transform="translate(1259.0,140.7) scale(1,1.07)" font-size="42">S</text><text transform="translate(1287.5,161.0) scale(1,1.07)" font-size="33">2</text>
<line x1="378.1" y1="671.8" x2="422" y2="671.8" stroke="#0000ff" stroke-width="8" stroke-linecap="round"/>
<line x1="378.1" y1="733.4" x2="422" y2="733.4" stroke="#ff00ff" stroke-width="8" stroke-linecap="round"/>
<text transform="translate(427.5,674.6) scale(1,1.07)" font-size="42">2</text><text transform="translate(451.0,675.0) scale(1,1.07)" font-size="42" style="font-family:Liberation Serif,serif;font-style:italic">κ</text><text transform="translate(474.0,695.5) scale(1,1.07)" font-size="33">e1</text>
<text transform="translate(428.0,737.0) scale(1,1.07)" font-size="42" style="font-family:Liberation Serif,serif;font-style:italic">κ</text><text transform="translate(451.0,757.5) scale(1,1.07)" font-size="33">e2</text>
<line x1="1190.5" y1="671.8" x2="1234.4" y2="671.8" stroke="#0000ff" stroke-width="8" stroke-linecap="round"/>
<line x1="1190.5" y1="733.4" x2="1234.4" y2="733.4" stroke="#ff00ff" stroke-width="8" stroke-linecap="round"/>
<text transform="translate(1240.5,674.6) scale(1,1.07)" font-size="42">ZT</text><text transform="translate(1289.5,695.0) scale(1,1.07)" font-size="33">e1</text>
<text transform="translate(1240.5,737.0) scale(1,1.07)" font-size="42">ZT</text><text transform="translate(1289.5,757.0) scale(1,1.07)" font-size="33">e2</text>
<text transform="translate(157.5,86.0) scale(1,1.05)" font-size="58.5">(a)</text>
<text transform="translate(970.5,91.2) scale(1,1.05)" font-size="58.5">(b)</text>
<text transform="translate(157.0,765.5) scale(1,1.05)" font-size="58.5">(c)</text>
<text transform="translate(970.5,686.0) scale(1,1.05)" font-size="58.5">(d)</text>
</svg></body></html>
